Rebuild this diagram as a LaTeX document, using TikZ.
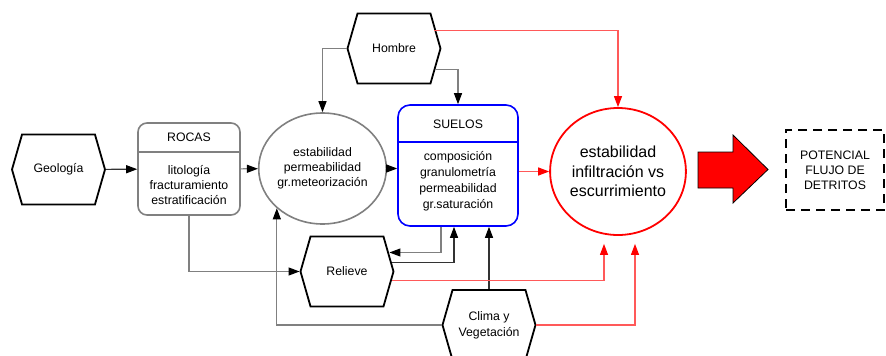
\documentclass[tikz,border=0pt]{standalone}
\usepackage{fontspec}
\setmainfont{Liberation Sans}
\usetikzlibrary{calc,arrows.meta,shapes.geometric,shapes.symbols}

\begin{document}
\begin{tikzpicture}[
 x=1pt,y=-1pt,
 >={Triangle[length=11pt,width=8pt,black]},
 align=center,
 font=\fontsize{12.3}{15}\selectfont,
 hexa/.style={draw=black,line width=1.8pt,signal,signal to=east and west,signal pointer angle=148,minimum width=93pt,minimum height=70pt,inner sep=0pt},
 grey-box/.style={draw=black!50,line width=1.6pt,rectangle,rounded corners=9pt},
 blue-box/.style={draw=blue,line width=1.6pt,rectangle,rounded corners=12pt},
 grey-link/.style={draw=black!50,line width=1.1pt,->},
 dark-link/.style={draw=black!80,line width=1.1pt,->},
 red-link/.style={draw=red!65,line width=1.1pt,-{Triangle[length=11pt,width=8pt,red]}}
]
\useasboundingbox (0,0) rectangle (886,356);

% hexagons
\node (geologia) [hexa] at (58.5,169.5) {Geología};
\node (hombre) [hexa] at (394,48.5) {Hombre};
\node (relieve) [hexa] at (347,271.5) {Relieve};
\node (clima) [hexa,font=\fontsize{12.3}{16}\selectfont] at (489,325) {Clima y\\Vegetación};

% ROCAS
\node (rocas) [grey-box,minimum width=102pt,minimum height=92pt] at (189,169) {};
\draw [black!50,line width=1.6pt] ($(rocas.north west)+(0,30)$) -- ($(rocas.north east)+(0,30)$);
\node (rocas-title) at (189,137) {ROCAS};
\node (rocas-text) at (189,185) {litología\\fracturamiento\\estratificación};

% SUELOS
\node (suelos) [blue-box,minimum width=120pt,minimum height=121pt] at (458,165.5) {};
\draw [blue,line width=1.6pt] ($(suelos.north west)+(0,38)$) -- ($(suelos.north east)+(0,38)$);
\node (suelos-title) at (458,124) {SUELOS};
\node (suelos-text) [font=\fontsize{12.3}{16}\selectfont] at (458,181) {composición\\granulometría\\permeabilidad\\gr.saturación};

% circles
\node (est) [ellipse,draw=black!50,line width=1.6pt,minimum width=121pt,minimum height=111pt,inner sep=0pt] at (322.5,168.5) {estabilidad\\permeabilidad\\gr.meteorización};
\node (res) [ellipse,draw=red,line width=1.8pt,minimum width=131pt,minimum height=127pt,inner sep=0pt,font=\fontsize{16}{19.5}\selectfont] at (618,171.5) {estabilidad\\infiltración vs\\escurrimiento};

% result
\draw [fill=red,line width=0.8pt] (698,152) -- (733,152) -- (733,135) -- (768,169.5) -- (733,203) -- (733,188) -- (698,188) -- cycle;
\node (flujo) [draw,dash pattern=on 9pt off 6pt,line width=1.6pt,minimum width=98pt,minimum height=80pt] at (835,170) {POTENCIAL\\FLUJO DE\\DETRITOS};

% links
\draw [dark-link] (geologia) -- (rocas);
\draw [grey-link] (rocas) -- (est);
\draw [grey-link] (est.east) -- (est.east -| suelos.west);
\draw [red-link] (suelos.east |- res.west) -- (res.west);
\draw [grey-link] (hombre.west) -| (est.north);
\draw [grey-link] ($(hombre.east)+(-6,21)$) -| (suelos.north);
\draw [red-link] ($(hombre.east)+(-7,-18)$) -| (res.north);
\draw [grey-link] (rocas.south) |- (relieve.west);
\draw [grey-link] (clima.west) -| (est.south west);
\draw [grey-link] ($(suelos.south)+(-17,0)$) |- ($(relieve.east)+(-5,-19)$);
\draw [dark-link] ($(relieve.east)+(-2,-9)$) -| ($(suelos.south)+(-4,0)$);
\draw [dark-link] (clima.north) -- (clima.north |- suelos.south);
\draw [red-link] ($(relieve.east)+(-2,9)$) -| ($(res.south)+(-14,8)$);
\draw [red-link] (clima.east) -| ($(res.south)+(17,8)$);
\end{tikzpicture}
\end{document}
